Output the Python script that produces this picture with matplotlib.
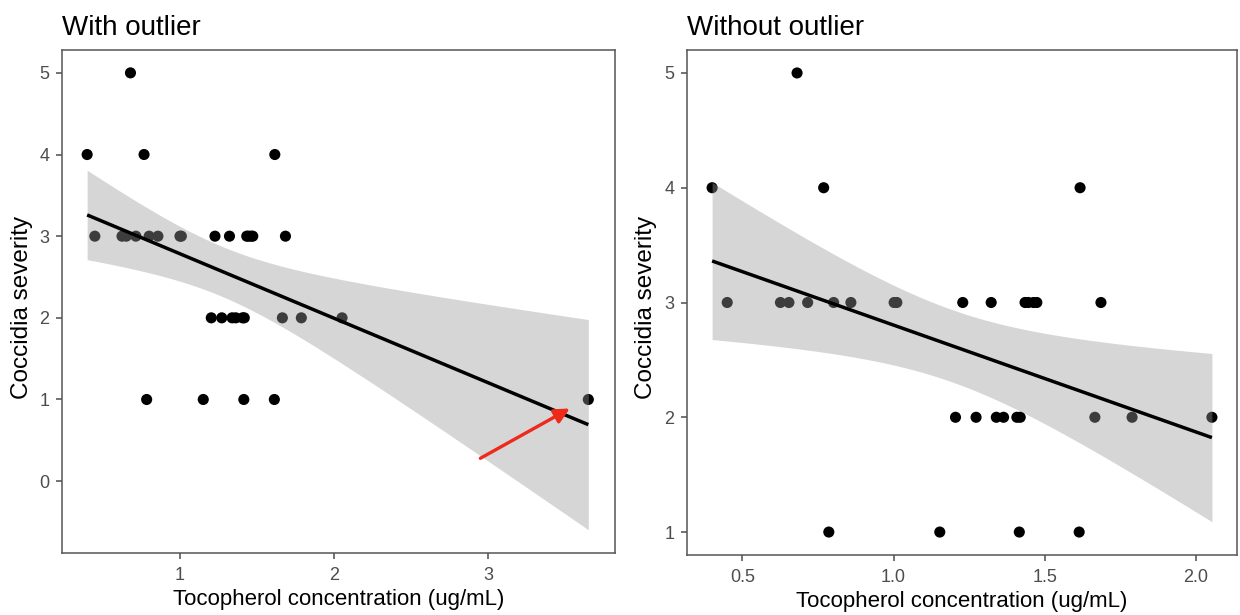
import numpy as np
import matplotlib
matplotlib.use("Agg")
import matplotlib.pyplot as plt

# ---- data ----
x_main = [0.681,
          0.400, 0.769, 1.617,
          0.450, 0.626, 0.654, 0.716, 0.802, 0.859, 1.002, 1.011, 1.229, 1.323,
          1.435, 1.446, 1.463, 1.474, 1.686,
          1.205, 1.273, 1.340, 1.364, 1.408, 1.419, 1.666, 1.789, 2.053,
          0.786, 1.153, 1.416, 1.614]
y_main = [5,
          4, 4, 4,
          3, 3, 3, 3, 3, 3, 3, 3, 3, 3,
          3, 3, 3, 3, 3,
          2, 2, 2, 2, 2, 2, 2, 2, 2,
          1, 1, 1, 1]
x_outlier = [3.65]
y_outlier = [1]

titles = ["With outlier", "Without outlier"]
xlabel = "Tocopherol concentration (ug/mL)"
ylabel = "Coccidia severity"
xticks_left = [1, 2, 3]
yticks_left = [0, 1, 2, 3, 4, 5]
xticks_right = [0.5, 1.0, 1.5, 2.0]
yticks_right = [1, 2, 3, 4, 5]
arrow_from = (2.95, 0.28)
arrow_to = (3.53, 0.89)

# t quantiles (0.975) for residual df 31 and 30
T975 = {31: 2.0395, 30: 2.0423}

plt.rcParams['font.family'] = ['Liberation Sans', 'DejaVu Sans']

def lm_band(x, y, n_grid=80):
    x = np.asarray(x, float); y = np.asarray(y, float)
    n = len(x)
    X = np.column_stack([np.ones(n), x])
    beta, *_ = np.linalg.lstsq(X, y, rcond=None)
    resid = y - X @ beta
    s2 = resid @ resid / (n - 2)
    XtXi = np.linalg.inv(X.T @ X)
    xg = np.linspace(x.min(), x.max(), n_grid)
    Xg = np.column_stack([np.ones(n_grid), xg])
    fit = Xg @ beta
    se = np.sqrt(s2 * np.einsum('ij,jk,ik->i', Xg, XtXi, Xg))
    t = T975[n - 2]
    return xg, fit, fit - t * se, fit + t * se

W, H = 1240, 615
fig = plt.figure(figsize=(W / 100, H / 100), dpi=100)

def px_axes(l, r, t, b):
    return fig.add_axes([l / W, 1 - b / H, (r - l) / W, (b - t) / H])

ax1 = px_axes(62, 615, 50, 553)
ax2 = px_axes(687, 1237, 50, 555)

panels = [
    (ax1, list(x_main) + x_outlier, list(y_main) + y_outlier, xticks_left, yticks_left, (0.237, 3.823), (-0.88, 5.28), 22),
    (ax2, list(x_main), list(y_main), xticks_right, yticks_right, (0.317, 2.136), (0.8, 5.2), 646),
]

for (ax, xs, ys, xt, yt, xl, yl, ylab_x), title in zip(panels, titles):
    ax.scatter(xs, ys, s=64, color='black', edgecolors='none', zorder=2)
    xg, fit, lo, hi = lm_band(xs, ys)
    ax.fill_between(xg, lo, hi, color='#999999', alpha=0.4, linewidth=0, zorder=3)
    ax.plot(xg, fit, color='black', lw=2.5, zorder=4, solid_capstyle='butt')
    ax.set_xlim(*xl)
    ax.set_ylim(*yl)
    ax.set_xticks(xt)
    ax.set_yticks(yt)
    if ax is ax2:
        ax.set_xticklabels([f"{v:.1f}" for v in xt])
    ax.tick_params(axis='both', colors='#4d4d4d', labelcolor='#4d4d4d', labelsize=13,
                   length=4, width=1.1)
    ax.tick_params(axis='x', pad=6)
    ax.tick_params(axis='y', pad=5)
    for sp in ax.spines.values():
        sp.set_color('#555555')
        sp.set_linewidth(1.1)
    ax.set_xlabel(xlabel, fontsize=16, color='black', labelpad=4)
    ax.set_ylabel(ylabel, fontsize=17.5, color='black')
    ax.yaxis.set_label_coords(ylab_x / W, 0.5, transform=fig.transFigure)
    ax.yaxis.label.set_verticalalignment('center')
    ax.set_title(title, fontsize=20, loc='left', pad=11, color='black')

ax1.annotate("", xy=arrow_to, xytext=arrow_from,
             arrowprops=dict(arrowstyle='-|>,head_length=0.9,head_width=0.45',
                             color='#ee2a1b', lw=2.4, shrinkA=0, shrinkB=0),
             zorder=6)

fig.savefig("out.png", dpi=100, facecolor='white')
